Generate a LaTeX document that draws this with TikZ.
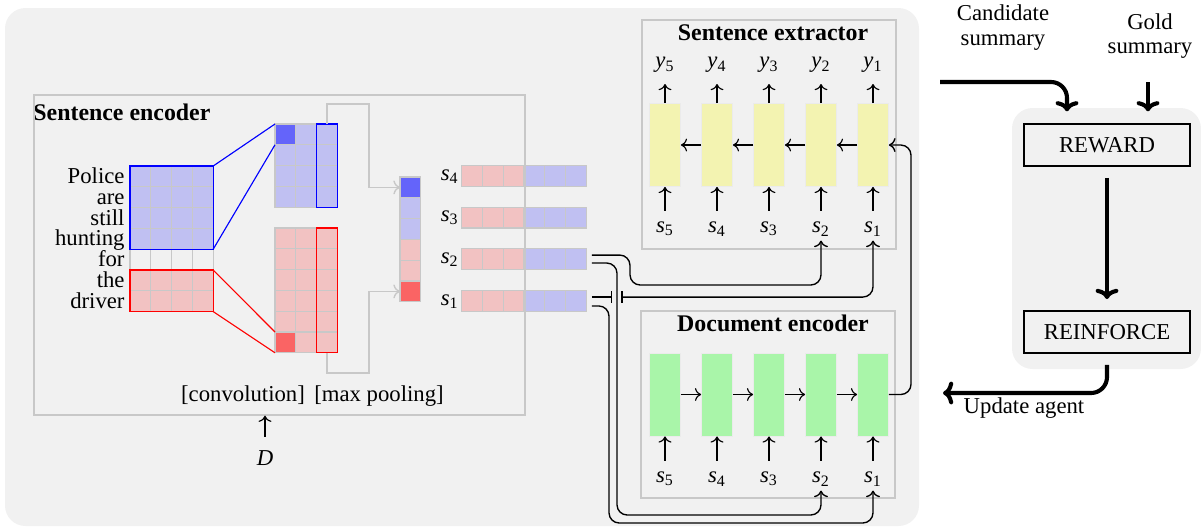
\documentclass[tikz,border=0pt]{standalone}
\usepackage{fontspec}
\setmainfont{Liberation Serif}
\usepackage{tikz}
\usetikzlibrary{arrows.meta}

\definecolor{bggray}{HTML}{F1F1F1}
\definecolor{framegray}{HTML}{C8C8C8}
\definecolor{lblue}{HTML}{C0C0F2}
\definecolor{dblue}{HTML}{6464FA}
\definecolor{lred}{HTML}{F2C2C2}
\definecolor{dred}{HTML}{FA6464}
\definecolor{lyellow}{HTML}{F3F3B1}
\definecolor{lgreen}{HTML}{A9F5A9}

\newcommand{\sv}[1]{\textit{s}\textsubscript{#1}}
\newcommand{\yv}[1]{\textit{y}\textsubscript{#1}}

\tikzset{
  encframe/.style={draw=framegray, line width=0.6pt, inner sep=0pt},
  boxtitle/.style={font=\fontsize{10.5}{12.5}\selectfont\bfseries},
  cellgrid/.style={draw=framegray, line width=0.5pt},
  lstm/.style={draw=black!8, line width=0.4pt, minimum width=13.6pt,
    minimum height=36.5pt, inner sep=0pt},
  lbl/.style={inner sep=0pt, outer sep=5pt},
  link/.style={line width=0.6pt, rounded corners=4.5pt},
  pool/.style={draw=framegray, line width=0.6pt},
  vec/.style={minimum width=54.9pt, minimum height=9.15pt, inner sep=0pt},
  stepbox/.style={draw, line width=0.5pt, fill=bggray, minimum width=73pt,
    minimum height=18.5pt},
  bigarrow/.style={line width=1.8pt,
    -{Computer Modern Rightarrow[length=4.5pt,width=10pt]}}
}

\begin{document}
\begin{tikzpicture}[x=0.44pt, y=-0.44pt, font=\fontsize{10}{12}\selectfont]
\useasboundingbox (0,0) rectangle (1201,526);
\fill[bggray, rounded corners=9pt] (5,8) rectangle (919,526);
\fill[bggray, rounded corners=9pt] (1012,108) rectangle (1201,369);

% sentence encoder
\node[boxtitle, anchor=base west, inner sep=0pt] (enctitle) at (33,120.5) {Sentence encoder};
\begin{scope}[every node/.style={anchor=base east, inner sep=0pt}]
	\node (w1) at (125,183.5) {Police};
	\node (w2) at (125,204.3) {are};
	\node (w3) at (125,225.1) {still};
	\node (w4) at (125,245.9) {hunting};
	\node (w5) at (125,266.7) {for};
	\node (w6) at (125,287.5) {the};
	\node (w7) at (125,308.3) {driver};
\end{scope}
\begin{scope}[shift={(130,166)}, x=9.152pt, y=-9.152pt]
	\fill[lblue] (0,0) rectangle (4,4);
	\fill[lred] (0,5) rectangle (4,7);
	\foreach \c in {0,...,3} \foreach \r in {0,...,6}
		\draw[cellgrid] (\c,\r) rectangle ++(1,1);
	\draw[blue, line width=0.6pt] (0,0) rectangle (4,4);
	\draw[red, line width=0.6pt] (0,5) rectangle (4,7);
	\coordinate (mb1) at (4,0); \coordinate (mb2) at (4,4);
	\coordinate (mr1) at (4,5); \coordinate (mr2) at (4,7);
\end{scope}
% feature maps
\begin{scope}[shift={(275,124)}, x=9.152pt, y=-9.152pt]
	\foreach \c in {0,1,2} \foreach \r in {0,...,3}
		\draw[cellgrid, fill=lblue] (\c,\r) rectangle ++(1,1);
	\draw[cellgrid, fill=dblue] (0,0) rectangle (1,1);
	\draw[blue, line width=0.6pt] (2,0) rectangle (3,4);
	\coordinate (fb1) at (0,0); \coordinate (fb2) at (0,1);
	\coordinate (bmax) at (2.5,0);
\end{scope}
\begin{scope}[shift={(275,228)}, x=9.152pt, y=-9.152pt]
	\foreach \c in {0,1,2} \foreach \r in {0,...,5}
		\draw[cellgrid, fill=lred] (\c,\r) rectangle ++(1,1);
	\draw[cellgrid, fill=dred] (0,5) rectangle (1,6);
	\draw[red, line width=0.6pt] (2,0) rectangle (3,6);
	\coordinate (fr1) at (0,5); \coordinate (fr2) at (0,6);
	\coordinate (rmax) at (2.5,6);
\end{scope}
\begin{scope}[shift={(400,177)}, x=9.152pt, y=-9.152pt]
	\foreach \col [count=\r from 0] in {dblue,lblue,lblue,lred,lred,dred}
		\draw[cellgrid, fill=\col] (0,\r) rectangle ++(1,1);
	\coordinate (pin1) at (0,0.5); \coordinate (pin2) at (0,5.5);
\end{scope}
\draw[blue, line width=0.5pt] (mb1) -- (fb1) (mb2) -- (fb2);
\draw[red, line width=0.5pt] (mr1) -- (fr1) (mr2) -- (fr2);
\coordinate (pa) at (369,104);
\coordinate (pb) at (369,373);
\draw[pool, ->] (bmax) |- (pa) |- (pin1);
\draw[pool, ->] (rmax) |- (pb) |- (pin2);

% sentence vectors
\begin{scope}[every node/.style={vec}]
	\node (v4) at (524.4,176.4) {};
	\node (v3) at (524.4,218) {};
	\node (v2) at (524.4,259.4) {};
	\node (v1) at (524.4,301.4) {};
\end{scope}
\foreach \v in {v1,v2,v3,v4} {
	\begin{scope}[shift={(\v.north west)}, x=9.152pt, y=-9.152pt]
		\foreach \col [count=\c from 0] in {lred,lred,lred,lblue,lblue,lblue}
			\draw[cellgrid, fill=\col] (\c,0) rectangle ++(1,1);
	\end{scope}
}
\begin{scope}[every node/.style={anchor=east, inner sep=1pt}]
	\node (ls4) at (v4.west) {\sv4};
	\node (ls3) at (v3.west) {\sv3};
	\node (ls2) at (v2.west) {\sv2};
	\node (ls1) at (v1.west) {\sv1};
\end{scope}

\node[encframe, minimum width=216pt, minimum height=140.8pt] (senc) at (279.5,255) {};
\node[anchor=base] (conv) at (243,401) {[convolution]};
\node[anchor=base] (maxp) at (379,401) {[max pooling]};
\node[lbl, outer sep=6pt] (dlab) at (265,458) {\textit{D}};
\draw[->, line width=0.5pt] (dlab) -- (senc.south -| dlab);

% sentence extractor
\node[encframe, minimum width=111.8pt, minimum height=100.8pt] (extr) at (769,134.5) {};
\node[boxtitle, anchor=base, inner sep=0pt] (extitle) at (773,40.5) {Sentence extractor};
\begin{scope}[every node/.style={lstm, fill=lyellow}]
	\node (e1) at (873,145) {};
	\node (e2) at (821,145) {};
	\node (e3) at (769,145) {};
	\node (e4) at (717,145) {};
	\node (e5) at (665,145) {};
\end{scope}
\begin{scope}[every node/.style={lbl}]
	\node (y1) at (873,65) {\yv1};
	\node (y2) at (821,65) {\yv2};
	\node (y3) at (769,65) {\yv3};
	\node (y4) at (717,65) {\yv4};
	\node (y5) at (665,65) {\yv5};
	\node (se1) at (873,229) {\sv1};
	\node (se2) at (821,229) {\sv2};
	\node (se3) at (769,229) {\sv3};
	\node (se4) at (717,229) {\sv4};
	\node (se5) at (665,229) {\sv5};
\end{scope}

% document encoder
\node[encframe, minimum width=111.8pt, minimum height=82.3pt] (denc) at (768,404.5) {};
\node[boxtitle, anchor=base, inner sep=0pt] (dectitle) at (773,331.5) {Document encoder};
\begin{scope}[every node/.style={lstm, fill=lgreen}]
	\node (d1) at (873,394.5) {};
	\node (d2) at (821,394.5) {};
	\node (d3) at (769,394.5) {};
	\node (d4) at (717,394.5) {};
	\node (d5) at (665,394.5) {};
\end{scope}
\begin{scope}[every node/.style={lbl}]
	\node (sd1) at (873,479) {\sv1};
	\node (sd2) at (821,479) {\sv2};
	\node (sd3) at (769,479) {\sv3};
	\node (sd4) at (717,479) {\sv4};
	\node (sd5) at (665,479) {\sv5};
\end{scope}

\begin{scope}[every edge/.style={draw, line width=0.5pt}]
	\path [->] (e1) edge (e2);
	\path [->] (e2) edge (e3);
	\path [->] (e3) edge (e4);
	\path [->] (e4) edge (e5);
	\path [->] (d5) edge (d4);
	\path [->] (d4) edge (d3);
	\path [->] (d3) edge (d2);
	\path [->] (d2) edge (d1);
	\foreach \i in {1,...,5} {
		\path [->] (e\i) edge (y\i);
		\path [->] (se\i) edge (e\i);
		\path [->] (sd\i) edge (d\i);
	}
\end{scope}

% connectors
\coordinate (dout) at (911,145);
\draw[link, ->] (d1) -| (dout) -- (e1);
\coordinate (k2) at (630,285);
\coordinate (k2low) at (617,515);
\coordinate (k1low) at (609,523);
\coordinate (v1a) at ([xshift=2pt,yshift=1.9pt]v1.east);
\coordinate (b1) at ([xshift=9pt]v1a);
\coordinate (b2) at ([xshift=13pt]v1a);
\draw[link, ->, shorten >=-3pt] ([xshift=2pt,yshift=1.9pt]v2.east) -| (k2) -| (se2);
\draw[link, ->, shorten >=-3pt] ([xshift=2pt,yshift=-1.6pt]v2.east) -| (k2low) -| (sd2);
\draw[link, -{Bar[width=5pt]}] (v1a) -- (b1);
\draw[link, {Bar[width=5pt]}->, shorten >=-3pt] (b2) -| (se1);
\draw[link, ->, shorten >=-3pt] ([xshift=2pt,yshift=-2pt]v1.east) -| (k1low) -| (sd1);

% reward side
\begin{scope}[font=\fontsize{10}{10.7}\selectfont]
	\node[stepbox] (reward) at (1107,145) {REWARD};
	\node[stepbox] (reinf) at (1107,332) {REINFORCE};
	\node[align=center, inner sep=0pt] (cand) at (1003,27.5) {Candidate\\summary};
	\node[align=center, inner sep=0pt] (gold) at (1150,36) {Gold\\summary};
	\node[anchor=base] (upd) at (1024,413) {Update agent};
\end{scope}
\coordinate (candin) at (940,82);
\coordinate (goldin) at (1148,82);
\coordinate (updout) at (943,393);
\draw[bigarrow, rounded corners=7pt, shorten >=5.3pt] (candin) -| ([xshift=-17.6pt]reward.north);
\draw[bigarrow, shorten >=5.3pt] (goldin) -- (goldin |- reward.north);
\draw[bigarrow, shorten <=5pt, shorten >=5pt] (reward) -- (reinf);
\draw[bigarrow, rounded corners=7pt, shorten <=5pt] (reinf) |- (updout);
\end{tikzpicture}
\end{document}
